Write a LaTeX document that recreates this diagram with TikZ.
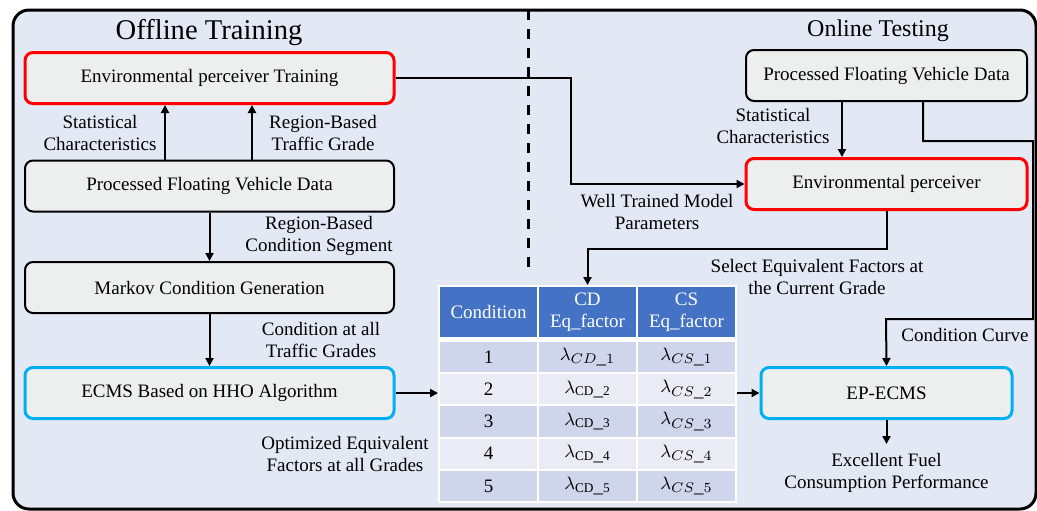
\documentclass[tikz,border=0pt]{standalone}
\usepackage{fontspec}
\setmainfont{Liberation Serif}
\usetikzlibrary{arrows.meta}
\definecolor{bgblue}{HTML}{E2E8F4}
\definecolor{boxgray}{HTML}{EDEEEE}
\definecolor{hdblue}{HTML}{4472C4}
\definecolor{rowdark}{HTML}{CFD5EA}
\definecolor{rowlight}{HTML}{E9EBF5}
\definecolor{cyanb}{HTML}{00B0F0}
\tikzset{
  box/.style={draw=black,line width=1pt,rounded corners=4pt,fill=boxgray,minimum height=25.5pt,inner sep=0pt,font=\fontsize{9.5}{11}\selectfont},
  redbox/.style={box,draw=red,line width=1.5pt},
  cyanbox/.style={box,draw=cyanb,line width=1.5pt},
  lbl/.style={align=center,font=\fontsize{9.5}{11}\selectfont},
  cell/.style={draw=white,line width=1pt,minimum width=49.5pt,minimum height=16.1pt,inner sep=0pt,font=\fontsize{9.5}{11}\selectfont},
  arr/.style={line width=1pt,-{Triangle[length=4pt,width=4pt]}}
}
\begin{document}
\begin{tikzpicture}[x=0.5pt,y=-0.5pt]
        \clip (0,0) rectangle (1037,510);
        \useasboundingbox (0,0) rectangle (1037,510);
        \draw[line width=1.5pt,rounded corners=8pt,fill=bgblue] (13,10) rectangle (1036,509);
        \draw[line width=1.5pt,dash pattern=on 5pt off 4.5pt] (528,10) -- (528,274);
        \node[font=\fontsize{14.3}{16}\selectfont] (offline) at (209,33) {Offline Training};
        \node[font=\fontsize{12}{14}\selectfont] (online) at (878,31) {Online Testing};
        \node[redbox,minimum width=184.5pt] (ept) at (209.5,78) {Environmental perceiver Training};
        \node[box,minimum width=184.5pt] (pfvdL) at (209.5,186) {Processed Floating Vehicle Data};
        \node[box,minimum width=184.5pt] (markov) at (209.5,287.5) {Markov Condition Generation};
        \node[cyanbox,minimum width=184.5pt] (ecms) at (209.5,393) {ECMS Based on HHO Algorithm};
        \node[box,minimum width=140.5pt] (pfvdR) at (886.5,75.5) {Processed Floating Vehicle Data};
        \node[redbox,minimum width=140.5pt] (envp) at (886.5,184) {Environmental perceiver};
        \node[cyanbox,minimum width=125.5pt] (epecms) at (886.5,393) {EP-ECMS};
        \node[cell,fill=hdblue,text=white,minimum height=26pt] (t-0-1) at (488.5,312) {Condition};
        \node[cell,fill=hdblue,text=white,minimum height=26pt,align=center] (t-0-2) at (587.5,312) {CD\\Eq\_factor};
        \node[cell,fill=hdblue,text=white,minimum height=26pt,align=center] (t-0-3) at (686.5,312) {CS\\Eq\_factor};
        \foreach \r/\f/\cd in {1/rowdark/{$\lambda_{CD\_1}$},2/rowlight/{$\lambda_{\mathrm{CD\_2}}$},3/rowdark/{$\lambda_{\mathrm{CD\_3}}$},4/rowlight/{$\lambda_{\mathrm{CD\_4}}$},5/rowdark/{$\lambda_{\mathrm{CD\_5}}$}}{
        \pgfmathsetmacro\yy{341+(\r-0.5)*32.2}
        \node[cell,fill=\f] (t-\r-1) at (488.5,\yy) {\r};
        \node[cell,fill=\f] (t-\r-2) at (587.5,\yy) {\cd};
        \node[cell,fill=\f] (t-\r-3) at (686.5,\yy) {$\lambda_{CS\_\r}$};
        }
        \draw[white,line width=1.5pt] (t-0-1.south west) -- (t-0-3.south east);
        \draw[arr] ([xshift=-22.25pt]pfvdL.north) -- ([xshift=-22.25pt]ept.south);
        \draw[arr] ([xshift=21.25pt]pfvdL.north) -- ([xshift=21.25pt]ept.south);
        \draw[arr] (pfvdL.south) -- (markov.north);
        \draw[arr] (markov.south) -- (ecms.north);
        \draw[arr] (ecms.east) -- (ecms.east -| t-2-1.west);
        \draw[arr] (t-2-3.east |- epecms.west) -- (epecms.west);
        \draw[arr] (ept.east) -- ++(175,0) |- (envp.west);
        \draw[arr] ([xshift=-22.25pt]pfvdR.south) -- ([xshift=-22.25pt]envp.north);
        \draw[arr] ([xshift=18.25pt]pfvdR.south) |- ++(110,39) |- ++(-147,178) -- (epecms.north);
        \draw[arr] (envp.south) -- ++(0,38) -| (t-0-2.north);
        \draw[arr] (epecms.south) -- ++(0,24) coordinate (fuel);
        \node[lbl] (l-stat) at (100,133) {Statistical\\Characteristics};
        \node[lbl] (l-grade) at (323,133) {Region-Based\\Traffic Grade};
        \node[lbl] (l-seg) at (319,236) {Region-Based\\Condition Segment};
        \node[lbl] (l-cond) at (321,340) {Condition at all\\Traffic Grades};
        \node[lbl] (l-opt) at (345,454) {Optimized Equivalent\\Factors at all Grades};
        \node[lbl] (l-well) at (657,212) {Well Trained Model\\Parameters};
        \node[lbl] (l-statR) at (773,126) {Statistical\\Characteristics};
        \node[lbl] (l-sel) at (817,277) {Select Equivalent Factors at\\the Current Grade};
        \node[lbl] (l-curve) at (965,335) {Condition Curve};
        \node[lbl,below=1pt] (l-fuel) at (fuel) {Excellent Fuel\\Consumption Performance};
\end{tikzpicture}
\end{document}
